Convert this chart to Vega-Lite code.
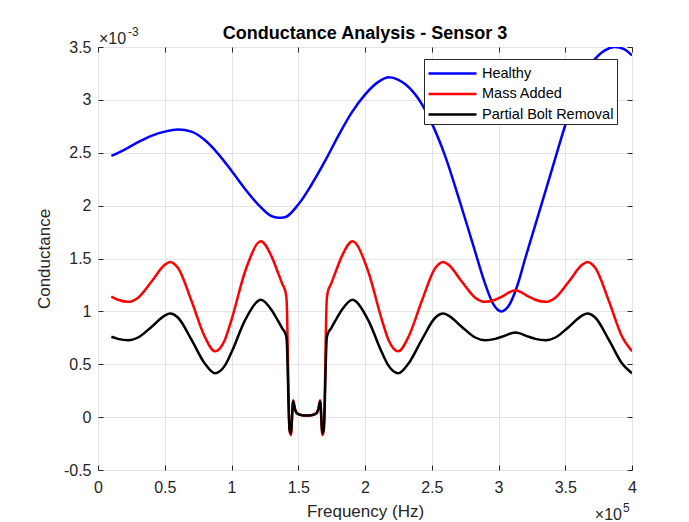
{
  "$schema": "https://vega.github.io/schema/vega-lite/v6.json",
  "width": 534,
  "height": 423,
  "autosize": {"type": "none"},
  "padding": {"left": 98, "top": 47, "right": 57, "bottom": 52},
  "background": "white",
  "config": {
    "font": "Liberation Sans",
    "view": {"stroke": "#262626", "strokeWidth": 1},
    "axis": {
      "gridColor": "#e4e4e4",
      "gridWidth": 1,
      "tickColor": "#262626",
      "labelColor": "#262626",
      "titleColor": "#262626",
      "labelFont": "Liberation Sans",
      "titleFont": "Liberation Sans",
      "labelFontSize": 16,
      "titleFontSize": 17,
      "titleFontWeight": "normal",
      "domain": false
    }
  },
  "title": {
    "text": "Conductance Analysis - Sensor 3",
    "font": "Liberation Sans",
    "fontSize": 18,
    "fontWeight": "bold",
    "color": "#000000",
    "anchor": "middle",
    "frame": "group",
    "offset": 8,
    "dy": 25
  },
  "data": {
    "values": [
      {"f": 10000, "g": 0.00247, "s": "Healthy"},
      {"f": 20000, "g": 0.00253, "s": "Healthy"},
      {"f": 30000, "g": 0.00260, "s": "Healthy"},
      {"f": 40000, "g": 0.00266, "s": "Healthy"},
      {"f": 50000, "g": 0.00270, "s": "Healthy"},
      {"f": 60000, "g": 0.00272, "s": "Healthy"},
      {"f": 70000, "g": 0.00270, "s": "Healthy"},
      {"f": 80000, "g": 0.00262, "s": "Healthy"},
      {"f": 90000, "g": 0.00249, "s": "Healthy"},
      {"f": 100000, "g": 0.00233, "s": "Healthy"},
      {"f": 110000, "g": 0.00216, "s": "Healthy"},
      {"f": 120000, "g": 0.00201, "s": "Healthy"},
      {"f": 130000, "g": 0.00190, "s": "Healthy"},
      {"f": 135000, "g": 0.001885, "s": "Healthy"},
      {"f": 140000, "g": 0.00189, "s": "Healthy"},
      {"f": 150000, "g": 0.00201, "s": "Healthy"},
      {"f": 160000, "g": 0.00220, "s": "Healthy"},
      {"f": 170000, "g": 0.00242, "s": "Healthy"},
      {"f": 180000, "g": 0.00266, "s": "Healthy"},
      {"f": 190000, "g": 0.00288, "s": "Healthy"},
      {"f": 200000, "g": 0.00305, "s": "Healthy"},
      {"f": 210000, "g": 0.00317, "s": "Healthy"},
      {"f": 218000, "g": 0.003213, "s": "Healthy"},
      {"f": 225000, "g": 0.00319, "s": "Healthy"},
      {"f": 230000, "g": 0.00315, "s": "Healthy"},
      {"f": 240000, "g": 0.00301, "s": "Healthy"},
      {"f": 250000, "g": 0.00278, "s": "Healthy"},
      {"f": 260000, "g": 0.00247, "s": "Healthy"},
      {"f": 270000, "g": 0.00208, "s": "Healthy"},
      {"f": 280000, "g": 0.00167, "s": "Healthy"},
      {"f": 290000, "g": 0.00126, "s": "Healthy"},
      {"f": 296000, "g": 0.00107, "s": "Healthy"},
      {"f": 302000, "g": 0.00100, "s": "Healthy"},
      {"f": 308000, "g": 0.00106, "s": "Healthy"},
      {"f": 314000, "g": 0.00124, "s": "Healthy"},
      {"f": 320000, "g": 0.00150, "s": "Healthy"},
      {"f": 330000, "g": 0.00192, "s": "Healthy"},
      {"f": 340000, "g": 0.00234, "s": "Healthy"},
      {"f": 350000, "g": 0.00276, "s": "Healthy"},
      {"f": 360000, "g": 0.00312, "s": "Healthy"},
      {"f": 370000, "g": 0.00335, "s": "Healthy"},
      {"f": 380000, "g": 0.00347, "s": "Healthy"},
      {"f": 387000, "g": 0.00350, "s": "Healthy"},
      {"f": 394000, "g": 0.00348, "s": "Healthy"},
      {"f": 400000, "g": 0.00342, "s": "Healthy"},

      {"f": 10000, "g": 0.00114, "s": "Mass Added"},
      {"f": 15000, "g": 0.00111, "s": "Mass Added"},
      {"f": 22700, "g": 0.00109, "s": "Mass Added"},
      {"f": 30000, "g": 0.00113, "s": "Mass Added"},
      {"f": 40000, "g": 0.00128, "s": "Mass Added"},
      {"f": 50000, "g": 0.00144, "s": "Mass Added"},
      {"f": 53900, "g": 0.001468, "s": "Mass Added"},
      {"f": 60000, "g": 0.00141, "s": "Mass Added"},
      {"f": 70000, "g": 0.00110, "s": "Mass Added"},
      {"f": 80000, "g": 0.00076, "s": "Mass Added"},
      {"f": 87600, "g": 0.000623, "s": "Mass Added"},
      {"f": 95000, "g": 0.00073, "s": "Mass Added"},
      {"f": 100000, "g": 0.00092, "s": "Mass Added"},
      {"f": 110000, "g": 0.00137, "s": "Mass Added"},
      {"f": 120000, "g": 0.00165, "s": "Mass Added"},
      {"f": 121900, "g": 0.001663, "s": "Mass Added"},
      {"f": 130000, "g": 0.00152, "s": "Mass Added"},
      {"f": 135000, "g": 0.00136, "s": "Mass Added"},
      {"f": 138000, "g": 0.00126, "s": "Mass Added"},
      {"f": 140600, "g": 0.001175, "s": "Mass Added"},
      {"f": 141300, "g": 0.00110, "s": "Mass Added"},
      {"f": 143500, "g": -0.00013, "s": "Mass Added"},
      {"f": 144500, "g": -0.00017, "s": "Mass Added"},
      {"f": 146200, "g": 0.00016, "s": "Mass Added"},
      {"f": 147500, "g": 0.00008, "s": "Mass Added"},
      {"f": 149000, "g": 0.00004, "s": "Mass Added"},
      {"f": 152000, "g": 0.00002, "s": "Mass Added"},
      {"f": 156300, "g": 0.000015, "s": "Mass Added"},
      {"f": 160600, "g": 0.00002, "s": "Mass Added"},
      {"f": 163600, "g": 0.00004, "s": "Mass Added"},
      {"f": 165100, "g": 0.00008, "s": "Mass Added"},
      {"f": 166400, "g": 0.00016, "s": "Mass Added"},
      {"f": 168100, "g": -0.00017, "s": "Mass Added"},
      {"f": 169100, "g": -0.00013, "s": "Mass Added"},
      {"f": 171300, "g": 0.00110, "s": "Mass Added"},
      {"f": 172000, "g": 0.001175, "s": "Mass Added"},
      {"f": 174600, "g": 0.00126, "s": "Mass Added"},
      {"f": 177600, "g": 0.00136, "s": "Mass Added"},
      {"f": 182600, "g": 0.00152, "s": "Mass Added"},
      {"f": 190700, "g": 0.001663, "s": "Mass Added"},
      {"f": 192600, "g": 0.00165, "s": "Mass Added"},
      {"f": 202600, "g": 0.00137, "s": "Mass Added"},
      {"f": 212600, "g": 0.00092, "s": "Mass Added"},
      {"f": 217600, "g": 0.00073, "s": "Mass Added"},
      {"f": 225000, "g": 0.000623, "s": "Mass Added"},
      {"f": 232600, "g": 0.00076, "s": "Mass Added"},
      {"f": 242600, "g": 0.00110, "s": "Mass Added"},
      {"f": 252600, "g": 0.00141, "s": "Mass Added"},
      {"f": 258700, "g": 0.001468, "s": "Mass Added"},
      {"f": 262600, "g": 0.00144, "s": "Mass Added"},
      {"f": 272600, "g": 0.00128, "s": "Mass Added"},
      {"f": 282600, "g": 0.00113, "s": "Mass Added"},
      {"f": 289900, "g": 0.00109, "s": "Mass Added"},
      {"f": 297600, "g": 0.00111, "s": "Mass Added"},
      {"f": 302600, "g": 0.00114, "s": "Mass Added"},
      {"f": 312600, "g": 0.00120, "s": "Mass Added"},
      {"f": 322600, "g": 0.00114, "s": "Mass Added"},
      {"f": 327600, "g": 0.00111, "s": "Mass Added"},
      {"f": 335300, "g": 0.00109, "s": "Mass Added"},
      {"f": 342600, "g": 0.00113, "s": "Mass Added"},
      {"f": 352600, "g": 0.00128, "s": "Mass Added"},
      {"f": 362600, "g": 0.00144, "s": "Mass Added"},
      {"f": 366500, "g": 0.001468, "s": "Mass Added"},
      {"f": 372600, "g": 0.00141, "s": "Mass Added"},
      {"f": 382600, "g": 0.00110, "s": "Mass Added"},
      {"f": 392600, "g": 0.00076, "s": "Mass Added"},
      {"f": 400000, "g": 0.000623, "s": "Mass Added"},

      {"f": 10000, "g": 0.00076, "s": "Partial Bolt Removal"},
      {"f": 15000, "g": 0.00074, "s": "Partial Bolt Removal"},
      {"f": 22700, "g": 0.000727, "s": "Partial Bolt Removal"},
      {"f": 30000, "g": 0.000753, "s": "Partial Bolt Removal"},
      {"f": 40000, "g": 0.000853, "s": "Partial Bolt Removal"},
      {"f": 50000, "g": 0.00096, "s": "Partial Bolt Removal"},
      {"f": 53900, "g": 0.000979, "s": "Partial Bolt Removal"},
      {"f": 60000, "g": 0.00094, "s": "Partial Bolt Removal"},
      {"f": 70000, "g": 0.000733, "s": "Partial Bolt Removal"},
      {"f": 80000, "g": 0.000507, "s": "Partial Bolt Removal"},
      {"f": 87600, "g": 0.000415, "s": "Partial Bolt Removal"},
      {"f": 95000, "g": 0.000487, "s": "Partial Bolt Removal"},
      {"f": 100000, "g": 0.000613, "s": "Partial Bolt Removal"},
      {"f": 110000, "g": 0.000913, "s": "Partial Bolt Removal"},
      {"f": 120000, "g": 0.00110, "s": "Partial Bolt Removal"},
      {"f": 121900, "g": 0.001109, "s": "Partial Bolt Removal"},
      {"f": 130000, "g": 0.001013, "s": "Partial Bolt Removal"},
      {"f": 135000, "g": 0.000907, "s": "Partial Bolt Removal"},
      {"f": 138000, "g": 0.00084, "s": "Partial Bolt Removal"},
      {"f": 140600, "g": 0.000783, "s": "Partial Bolt Removal"},
      {"f": 141300, "g": 0.00074, "s": "Partial Bolt Removal"},
      {"f": 143500, "g": -0.00012, "s": "Partial Bolt Removal"},
      {"f": 144500, "g": -0.00015, "s": "Partial Bolt Removal"},
      {"f": 146200, "g": 0.00015, "s": "Partial Bolt Removal"},
      {"f": 147500, "g": 0.000075, "s": "Partial Bolt Removal"},
      {"f": 149000, "g": 0.000035, "s": "Partial Bolt Removal"},
      {"f": 152000, "g": 0.00002, "s": "Partial Bolt Removal"},
      {"f": 156300, "g": 0.000015, "s": "Partial Bolt Removal"},
      {"f": 160600, "g": 0.00002, "s": "Partial Bolt Removal"},
      {"f": 163600, "g": 0.000035, "s": "Partial Bolt Removal"},
      {"f": 165100, "g": 0.000075, "s": "Partial Bolt Removal"},
      {"f": 166400, "g": 0.00015, "s": "Partial Bolt Removal"},
      {"f": 168100, "g": -0.00015, "s": "Partial Bolt Removal"},
      {"f": 169100, "g": -0.00012, "s": "Partial Bolt Removal"},
      {"f": 171300, "g": 0.00074, "s": "Partial Bolt Removal"},
      {"f": 172000, "g": 0.000783, "s": "Partial Bolt Removal"},
      {"f": 174600, "g": 0.00084, "s": "Partial Bolt Removal"},
      {"f": 177600, "g": 0.000907, "s": "Partial Bolt Removal"},
      {"f": 182600, "g": 0.001013, "s": "Partial Bolt Removal"},
      {"f": 190700, "g": 0.001109, "s": "Partial Bolt Removal"},
      {"f": 192600, "g": 0.00110, "s": "Partial Bolt Removal"},
      {"f": 202600, "g": 0.000913, "s": "Partial Bolt Removal"},
      {"f": 212600, "g": 0.000613, "s": "Partial Bolt Removal"},
      {"f": 217600, "g": 0.000487, "s": "Partial Bolt Removal"},
      {"f": 225000, "g": 0.000415, "s": "Partial Bolt Removal"},
      {"f": 232600, "g": 0.000507, "s": "Partial Bolt Removal"},
      {"f": 242600, "g": 0.000733, "s": "Partial Bolt Removal"},
      {"f": 252600, "g": 0.00094, "s": "Partial Bolt Removal"},
      {"f": 258700, "g": 0.000979, "s": "Partial Bolt Removal"},
      {"f": 262600, "g": 0.00096, "s": "Partial Bolt Removal"},
      {"f": 272600, "g": 0.000853, "s": "Partial Bolt Removal"},
      {"f": 282600, "g": 0.000753, "s": "Partial Bolt Removal"},
      {"f": 289900, "g": 0.000727, "s": "Partial Bolt Removal"},
      {"f": 297600, "g": 0.00074, "s": "Partial Bolt Removal"},
      {"f": 302600, "g": 0.00076, "s": "Partial Bolt Removal"},
      {"f": 312600, "g": 0.00080, "s": "Partial Bolt Removal"},
      {"f": 322600, "g": 0.00076, "s": "Partial Bolt Removal"},
      {"f": 327600, "g": 0.00074, "s": "Partial Bolt Removal"},
      {"f": 335300, "g": 0.000727, "s": "Partial Bolt Removal"},
      {"f": 342600, "g": 0.000753, "s": "Partial Bolt Removal"},
      {"f": 352600, "g": 0.000853, "s": "Partial Bolt Removal"},
      {"f": 362600, "g": 0.00096, "s": "Partial Bolt Removal"},
      {"f": 366500, "g": 0.000979, "s": "Partial Bolt Removal"},
      {"f": 372600, "g": 0.00094, "s": "Partial Bolt Removal"},
      {"f": 382600, "g": 0.000733, "s": "Partial Bolt Removal"},
      {"f": 392600, "g": 0.000507, "s": "Partial Bolt Removal"},
      {"f": 400000, "g": 0.000415, "s": "Partial Bolt Removal"}
    ]
  },
  "layer": [
    {
      "mark": {"type": "line", "interpolate": "monotone", "strokeWidth": 2.5, "clip": true},
      "encoding": {
        "x": {
          "field": "f", "type": "quantitative",
          "scale": {"domain": [0, 400000], "nice": false, "zero": false},
          "axis": {
            "values": [0, 50000, 100000, 150000, 200000, 250000, 300000, 350000, 400000],
            "labelExpr": "format(datum.value / 100000, '~g')",
            "title": "Frequency (Hz)",
            "grid": true,
            "ticks": true,
            "tickSize": -5,
            "labelPadding": 14,
            "titlePadding": 8,
            "labelFlush": false
          }
        },
        "y": {
          "field": "g", "type": "quantitative",
          "scale": {"domain": [-0.0005, 0.0035], "nice": false, "zero": false},
          "axis": {
            "values": [-0.0005, 0, 0.0005, 0.001, 0.0015, 0.002, 0.0025, 0.003, 0.0035],
            "labelExpr": "replace(format(datum.value * 1000, '~g'), '\u2212', '-')",
            "title": "Conductance",
            "grid": true,
            "ticks": true,
            "tickSize": -5,
            "labelPadding": 12,
            "titlePadding": 10,
            "labelFlush": false
          }
        },
        "color": {
          "field": "s", "type": "nominal",
          "scale": {"domain": ["Healthy", "Mass Added", "Partial Bolt Removal"], "range": ["#0000ff", "#ff0000", "#000000"]},
          "legend": {
            "title": null,
            "orient": "none",
            "legendX": 326,
            "legendY": 12,
            "direction": "vertical",
            "fillColor": "#ffffff",
            "strokeColor": "#262626",
            "padding": 3,
            "cornerRadius": 0,
            "symbolType": "M-1,0H3.8",
            "symbolSize": 400,
            "symbolStrokeWidth": 2.5,
            "labelFont": "Liberation Sans",
            "labelFontSize": 14.5,
            "labelColor": "#000000",
            "labelOffset": 32,
            "rowPadding": 2.5,
            "labelLimit": 300
          }
        }
      }
    },
    {
      "mark": {"type": "line", "opacity": 0},
      "encoding": {
        "x": {
          "field": "f", "type": "quantitative",
          "axis": {
            "orient": "top",
            "values": [0, 50000, 100000, 150000, 200000, 250000, 300000, 350000, 400000],
            "labels": false, "title": null, "grid": false, "ticks": true, "tickSize": -5
          }
        },
        "y": {
          "field": "g", "type": "quantitative",
          "axis": {
            "orient": "right",
            "values": [-0.0005, 0, 0.0005, 0.001, 0.0015, 0.002, 0.0025, 0.003, 0.0035],
            "labels": false, "title": null, "grid": false, "ticks": true, "tickSize": -5
          }
        }
      }
    },
    {
      "data": {"values": [{"t": "\u00d710"}]},
      "mark": {"type": "text", "align": "left", "baseline": "alphabetic", "fontSize": 16, "color": "#262626", "dx": 1, "dy": -3},
      "encoding": {
        "x": {"datum": 0, "type": "quantitative", "axis": null},
        "y": {"datum": 0.0035, "type": "quantitative", "axis": null},
        "text": {"field": "t"}
      }
    },
    {
      "data": {"values": [{"t": "-3"}]},
      "mark": {"type": "text", "align": "left", "baseline": "alphabetic", "fontSize": 12, "color": "#262626", "dx": 30, "dy": -11},
      "encoding": {
        "x": {"datum": 0, "type": "quantitative", "axis": null},
        "y": {"datum": 0.0035, "type": "quantitative", "axis": null},
        "text": {"field": "t"}
      }
    },
    {
      "data": {"values": [{"t": "\u00d710"}]},
      "mark": {"type": "text", "align": "right", "baseline": "alphabetic", "fontSize": 16, "color": "#262626", "dx": -10, "dy": 50},
      "encoding": {
        "x": {"datum": 400000, "type": "quantitative", "axis": null},
        "y": {"datum": -0.0005, "type": "quantitative", "axis": null},
        "text": {"field": "t"}
      }
    },
    {
      "data": {"values": [{"t": "5"}]},
      "mark": {"type": "text", "align": "left", "baseline": "alphabetic", "fontSize": 12, "color": "#262626", "dx": -9, "dy": 42},
      "encoding": {
        "x": {"datum": 400000, "type": "quantitative", "axis": null},
        "y": {"datum": -0.0005, "type": "quantitative", "axis": null},
        "text": {"field": "t"}
      }
    }
  ],
  "resolve": {"axis": {"x": "independent", "y": "independent"}}
}
